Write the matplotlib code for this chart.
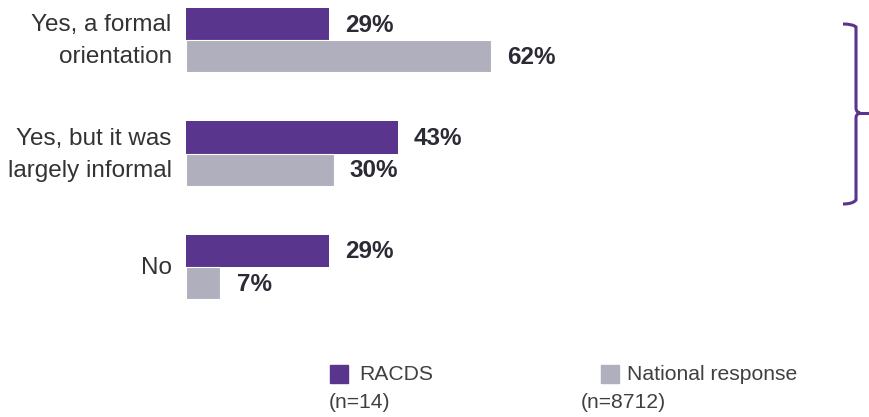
import matplotlib.pyplot as plt
from matplotlib.patches import Rectangle
from matplotlib.lines import Line2D
from matplotlib.path import Path
from matplotlib.patches import PathPatch

categories = ['Yes, a formal\norientation', 'Yes, but it was\nlargely informal', 'No']
racds = [29, 43, 29]
national = [62, 30, 7]
racds_label = 'RACDS'
racds_n = '(n=14)'
national_label = 'National response'
national_n = '(n=8712)'

purple = '#5a358d'
grey = '#b0afbd'
dark = '#2b2b35'

plt.rcParams['font.family'] = ['Liberation Sans', 'DejaVu Sans']

fig = plt.figure(figsize=(8.69, 4.17), dpi=100)
ax = fig.add_axes([186/869, 118/417, 492/869, 291/417])

h = 0.283
ypos = list(range(len(categories)))
ax.barh([y - h/2 for y in ypos], racds, height=h, color=purple)
ax.barh([y + h/2 for y in ypos], national, height=h, color=grey, edgecolor='white', linewidth=0.8)

for y, v in zip(ypos, racds):
    ax.text(v + 3.3, y - h/2 + 0.01, f'{v}%', va='center', ha='left', fontsize=17.5,
            fontweight='bold', color=dark)
for y, v in zip(ypos, national):
    ax.text(v + 3.3, y + h/2 + 0.01, f'{v}%', va='center', ha='left', fontsize=17.5,
            fontweight='bold', color=dark)

# category labels
for y, c in zip(ypos, categories):
    ax.text(-2.9, y + 0.01, c, ha='right', va='center', fontsize=17.5, color='#333333',
            linespacing=1.6, multialignment='right')

ax.set_xlim(0, 100)
ax.set_ylim(2 + h, -h)
ax.set_yticks([])
ax.set_xticks([])
for s in ax.spines.values():
    s.set_visible(False)

# bracket on the right
def fx(px):
    return px / 869
def fy(py):
    return 1 - py / 417

verts = [(fx(843), fy(24)), (fx(853), fy(24)), (fx(856), fy(27)), (fx(856), fy(108)),
         (fx(856), fy(112)), (fx(860), fy(113)), (fx(856), fy(114)), (fx(856), fy(118)),
         (fx(856), fy(200)), (fx(853), fy(204)), (fx(843), fy(204))]
codes = [Path.MOVETO, Path.CURVE3, Path.CURVE3, Path.LINETO,
         Path.CURVE3, Path.CURVE3, Path.CURVE3, Path.CURVE3,
         Path.LINETO, Path.CURVE3, Path.CURVE3]
fig.patches.append(PathPatch(Path(verts, codes), transform=fig.transFigure,
                             fill=False, edgecolor=purple, linewidth=2.2))
fig.lines.append(Line2D([fx(858), fx(869)], [fy(113), fy(113)], transform=fig.transFigure,
                        color=purple, linewidth=2.2))

# legend
fig.patches.append(Rectangle((fx(330), fy(383)), 18/869, 18/417, transform=fig.transFigure,
                             color=purple))
fig.text(fx(359), fy(374), racds_label, fontsize=15.2, color='#404040', va='center')
fig.text(fx(329), fy(403), racds_n, fontsize=15.2, color='#404040', va='center')
fig.patches.append(Rectangle((fx(601), fy(383)), 18/869, 18/417, transform=fig.transFigure,
                             color=grey))
fig.text(fx(627), fy(374), national_label, fontsize=15.2, color='#404040', va='center')
fig.text(fx(581), fy(403), national_n, fontsize=15.2, color='#404040', va='center')

fig.savefig('out.png', dpi=100)
